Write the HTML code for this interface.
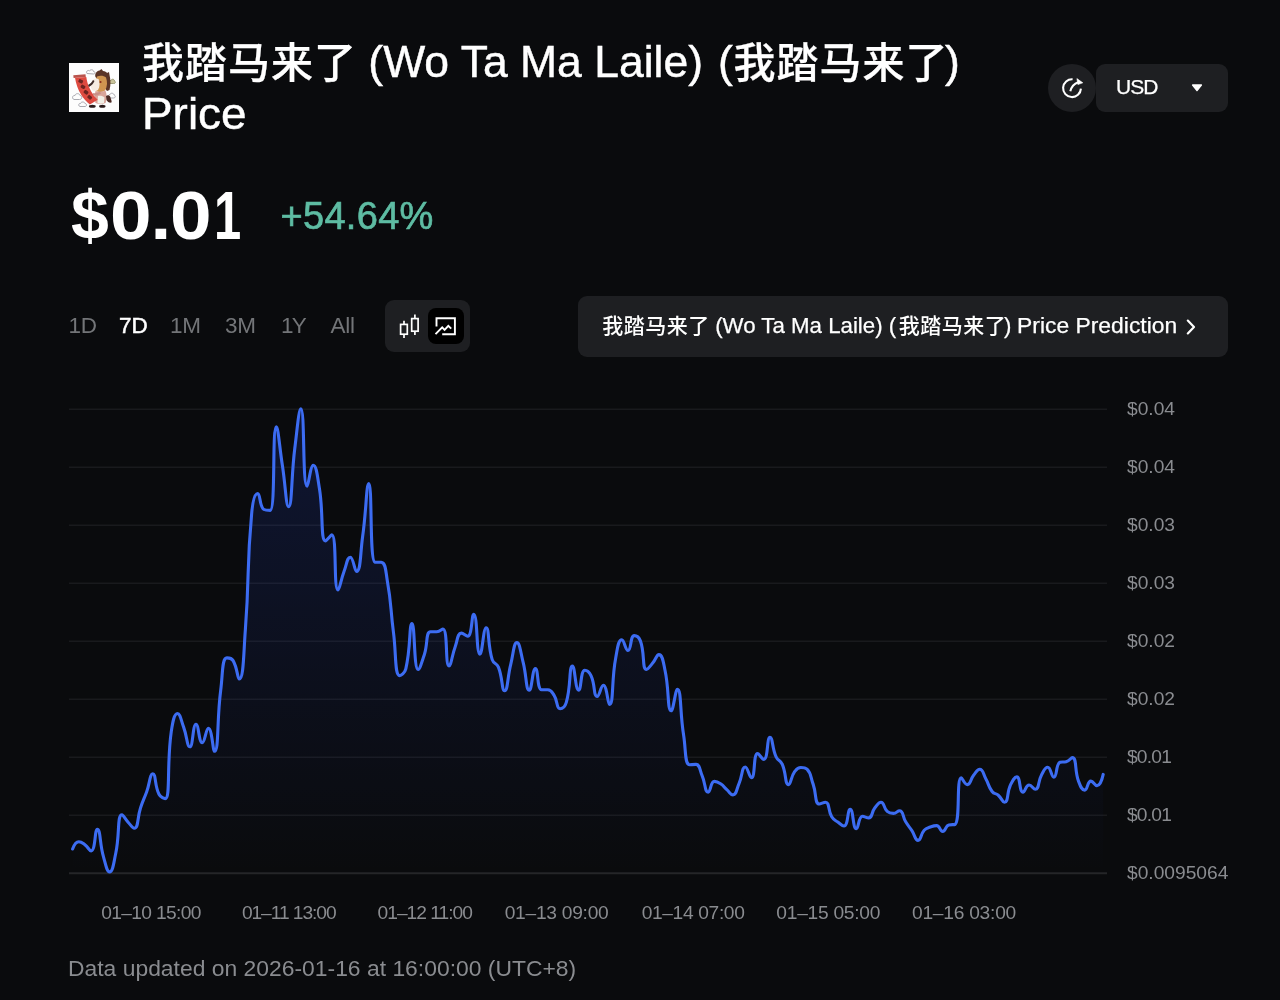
<!DOCTYPE html>
<html lang="zh">
<head>
<meta charset="utf-8">
<title>我踏马来了 (Wo Ta Ma Laile) (我踏马来了) Price</title>
<style>
*{box-sizing:border-box;margin:0;padding:0}
html,body{width:1280px;height:1000px;overflow:hidden;background:#0a0b0d}
body{position:relative;font-family:"Liberation Sans","Noto Sans CJK SC",sans-serif;color:#fff;-webkit-font-smoothing:antialiased}
.abs{position:absolute;white-space:nowrap}
#logo{left:69px;top:63.4px;width:50px;height:49px}
h1{left:0;top:0;width:1280px;height:150px;font-size:42px;line-height:51px;font-weight:400;color:#fff}
h1 span{position:absolute;white-space:pre;transform-origin:0 0}
h1 .c{letter-spacing:1px;font-weight:500;-webkit-text-stroke:0.25px #fff}
h1 .l{font-size:44px;transform:scaleX(1.011);-webkit-text-stroke:0.45px #fff}
#refresh{left:1048px;top:63.5px;width:48px;height:48px;border-radius:50%;background:#1e1f22}
#cur{left:1096px;top:63.5px;width:132px;height:48px;border-radius:9px;background:#1e1f22}
#cur span{position:absolute;left:20px;top:-1px;line-height:48px;font-size:21px;letter-spacing:-1px;color:#fff;-webkit-text-stroke:0.25px #fff}
#price{left:71px;top:176px;font-size:68px;line-height:78px;font-weight:700;color:#fff;letter-spacing:1.5px}
#price span{display:inline-block;transform-origin:0 0}
#price .z{transform:scaleX(1.1);letter-spacing:-1.1px;margin-left:-0.4px}
#price .o{transform:scaleX(.72);margin-left:13px}
#chg{left:280.5px;top:194px;font-size:38px;line-height:44px;color:#5ebca3;letter-spacing:0.3px;-webkit-text-stroke:0.65px #5ebca3}
.tab{top:313px;font-size:22.5px;line-height:26px;color:#737578;letter-spacing:-0.2px}
.tab.on{color:#fff;-webkit-text-stroke:0.5px #fff;letter-spacing:0}
#toggle{left:385px;top:300px;width:85px;height:52px;border-radius:9px;background:#1e1f22}
#toggle .act{position:absolute;left:43px;top:8px;width:36px;height:36px;border-radius:8px;background:#000}
#pred{left:578px;top:296px;width:650px;height:61px;border-radius:9px;background:#1e1f22;font-size:21px;line-height:61px;color:#fff}
#pred span{position:absolute;top:0;white-space:pre;transform-origin:0 0}
#pred .c{top:-1px;letter-spacing:0.5px;font-weight:500}
#pred .l{font-size:22.5px;top:-1.2px;transform:scaleX(.989);-webkit-text-stroke:0.25px #fff}
#pred .p{font-size:22.5px;top:-1.2px;transform:scaleX(1.017);-webkit-text-stroke:0.25px #fff}
#chart{left:0;top:0;width:1280px;height:1000px}
#chart text{font-family:"Liberation Sans",sans-serif;font-size:19.2px;fill:#8a8c90}
#foot{left:68px;top:955.5px;font-size:22px;line-height:26px;color:#8a8c90;transform:scaleX(1.04);transform-origin:0 0}
</style>
</head>
<body>
<svg id="chart" class="abs" viewBox="0 0 1280 1000">
  <defs>
    <linearGradient id="ag" x1="0" y1="409" x2="0" y2="873" gradientUnits="userSpaceOnUse">
      <stop offset="0" stop-color="#2a50ff" stop-opacity="0.155"/>
      <stop offset="1" stop-color="#2a50ff" stop-opacity="0"/>
    </linearGradient>
  </defs>
  <g stroke="#191a1d" stroke-width="1.6">
    <line x1="69" y1="409.3" x2="1107" y2="409.3"/>
    <line x1="69" y1="467.3" x2="1107" y2="467.3"/>
    <line x1="69" y1="525.3" x2="1107" y2="525.3"/>
    <line x1="69" y1="583.3" x2="1107" y2="583.3"/>
    <line x1="69" y1="641.3" x2="1107" y2="641.3"/>
    <line x1="69" y1="699.3" x2="1107" y2="699.3"/>
    <line x1="69" y1="757.3" x2="1107" y2="757.3"/>
    <line x1="69" y1="815.3" x2="1107" y2="815.3"/>
  </g>
  <line x1="69" y1="873.2" x2="1107" y2="873.2" stroke="#252628" stroke-width="2"/>
  <path d="M72.6 849C72.6 849 75.2 841.7 78.8 841.7C81.4 841.7 82.2 842.7 84.9 844.7C88.4 847.3 89.4 850.9 91.1 850.9C95.6 850.9 94.6 829.3 97.3 829.3C100.7 829.3 99.5 843.4 103.5 856.9C105.7 864.7 106.9 871.9 109.6 871.9C113 871.9 113.7 862.7 115.8 853C119.9 834.1 117 814.7 122 814.7C123.2 814.7 124.9 818.6 128.1 822.2C131 825.4 132.5 828.2 134.3 828.2C138.7 828.2 137.1 817.9 140.5 807.9C143.3 799.7 143.7 799.8 146.7 791.7C149.9 782.8 149.9 773.8 152.8 773.8C156.1 773.8 154.4 785.1 159 794.3C160.6 797.5 164.5 798.6 165.2 798.6C170.7 798.6 166.5 764.6 171.3 731.4C172.7 722.1 174.1 713.5 177.5 713.5C180.3 713.5 181 720.3 183.7 727.4C187.2 736.9 187 746.8 189.9 746.8C193.1 746.8 192.7 724.3 196 724.3C198.8 724.3 198.8 742.8 202.2 742.8C204.9 742.8 205.9 728.4 208.4 728.4C212.1 728.4 212.8 751.3 214.5 751.3C219 751.3 216.7 720.6 220.7 690.2C222.9 673.9 221.8 657.9 226.9 657.9C227.9 657.9 231.5 657.9 233.1 660.6C237.6 668.4 237.5 679 239.2 679C243.7 679 243.5 654.2 245.4 629.2C249.7 571.9 246.4 571.4 251.6 514.3C252.5 503.5 254.3 493.5 257.7 493.5C260.5 493.5 259.4 507 263.9 509.5C265.6 510.4 269.7 510.4 270.1 510.4C275.8 510.4 272 426.9 276.3 426.9C278.2 426.9 279.4 446.2 282.4 465.6C285.6 486.1 286 506.7 288.6 506.7C292.2 506.7 291.1 477.4 294.8 448.3C297.3 428.5 298.8 408.9 300.9 408.9C305 408.9 302.3 486.3 307.1 486.3C308.5 486.3 310.4 465.2 313.3 465.2C316.5 465.2 317.5 476.9 319.5 489.1C323.6 514.8 320.3 540.9 325.6 540.9C326.5 540.9 331 534.9 331.8 534.9C337.1 534.9 333.4 590 338 590C339.6 590 340.7 580.4 344.1 571.2C346.8 564 347.2 557.2 350.3 557.2C353.4 557.2 354.6 571.5 356.5 571.5C360.8 571.5 360.2 554.2 362.6 536.7C366.4 510.2 366.3 483.6 368.8 483.6C372.5 483.6 369.3 560.9 375 562.2C375.4 562.3 379.7 562.2 381.2 562.3C385.8 562.6 385.7 571.2 387.3 580.7C391.8 606.3 390.1 606.7 393.5 632.6C396.3 654.1 394.6 675.6 399.7 675.6C400.8 675.6 404.8 673.2 405.8 668.8C411 647.2 409 623.6 412 623.6C415.1 623.6 413.6 669.5 418.2 669.5C419.8 669.5 421.8 662.2 424.4 654.5C428 643.3 425.6 631.8 430.5 631.8C431.8 631.8 433.8 631.8 436.7 631.8C439.9 631.8 441.9 629 442.9 629C448.1 629 445 665.9 449 665.9C451.2 665.9 451.7 656.1 455.2 646.7C457.8 639.7 457.2 633.1 461.4 633.1C463.3 633.1 466.1 636.2 467.6 636.2C472.3 636.2 471.5 614.2 473.7 614.2C477.7 614.2 476.2 654.2 479.9 654.2C482.4 654.2 483.3 627.7 486.1 627.7C489.4 627.7 487.5 644.4 492.2 659.6C493.7 664.2 496.6 662.7 498.4 667.2C502.8 678.3 501.7 690.7 504.6 690.7C507.9 690.7 507.4 677.3 510.8 664.1C513.5 653.3 513.7 642.6 516.9 642.6C519.9 642.6 520.5 652.2 523.1 662.1C526.7 676 525.8 690.2 529.3 690.2C532 690.2 532.3 668.6 535.4 668.6C538.5 668.6 536.8 689.3 541.6 689.7C543 689.8 545.1 689.7 547.8 689.8C551.3 689.9 551.8 691.8 554 695.1C558 701.2 556.2 708.7 560.1 708.7C562.4 708.7 565.1 706.5 566.3 702.4C571.3 685.2 568.8 666.1 572.5 666.1C575 666.1 575.3 690.1 578.6 690.1C581.5 690.1 580.4 670.3 584.8 670.3C586.6 670.3 589.3 672.1 591 675.7C595.5 685.2 593.3 696.4 597.2 696.4C599.5 696.4 600.9 685.2 603.3 685.2C607.1 685.2 607.6 704.5 609.5 704.5C613.8 704.5 611.3 681 615.7 658C617.5 648.6 618.1 639.7 621.8 639.7C624.3 639.7 625.3 650.5 628 650.5C631.5 650.5 630.1 635.6 634.2 635.6C636.3 635.6 639 637.2 640.4 640.9C645.2 654.1 641.8 669.4 646.5 669.4C648 669.4 649.9 666.5 652.7 663.1C656.1 659.1 656.5 654.6 658.9 654.6C662.7 654.6 663.3 662.1 665 670.2C669.4 690.2 667.2 710.8 671.2 710.8C673.4 710.8 675.4 689.2 677.4 689.2C681.5 689.2 679.8 712.2 683.6 735C686 750 684.6 764.8 689.7 764.8C690.8 764.8 693.9 764.4 695.9 764.4C700.1 764.4 699.5 769.8 702.1 775.6C705.7 783.7 704.6 792.2 708.2 792.2C710.8 792.2 710.4 781.4 714.4 781.4C716.6 781.4 717.9 782 720.6 783.8C724.1 786.1 723.6 786.8 726.8 789.7C729.8 792.4 730.6 794.9 732.9 794.9C736.7 794.9 736.4 789.3 739.1 783.3C742.6 775.3 741.7 767 745.3 767C747.8 767 749.4 777.8 751.4 777.8C755.6 777.8 753 753.6 757.6 753.6C759.2 753.6 762.1 759.4 763.8 759.4C768.3 759.4 766.7 737.4 770 737.4C772.9 737.4 771.9 747.7 776.1 756.9C778.1 761.2 780.4 760 782.3 764.4C786.5 773.9 784.8 784.6 788.5 784.6C791 784.6 790.6 777.3 794.6 771.7C796.8 768.8 797.5 767.5 800.8 767.5C803.7 767.5 805.2 767.5 807 769.2C811.4 773.6 810.4 776.7 813.2 784.4C816.6 794.1 814.6 804 819.3 804C820.8 804 823.7 802.2 825.5 802.2C829.9 802.2 827.6 810.2 831.7 816.8C833.8 820.2 834.6 819.7 837.8 822.1C840.8 824.3 842.2 826 844 826C848.4 826 847.3 809.3 850.2 809.3C853.5 809.3 852.7 828.7 856.3 828.7C858.8 828.7 858.3 816.3 862.5 816.3C864.5 816.3 866.5 817.9 868.7 817.9C872.7 817.9 871.2 812.4 874.9 807.8C877.4 804.6 878.4 802.2 881 802.2C884.6 802.2 883.3 808 887.2 811.4C889.5 813.4 890.3 813.4 893.4 813.4C896.5 813.4 897.4 810.7 899.5 810.7C903.6 810.7 902.4 816.4 905.7 821.8C908.5 826.4 908.9 826.1 911.9 830.6C915.1 835.4 915 840.4 918.1 840.4C921.2 840.4 920.4 834.5 924.2 830.3C926.5 827.8 927.2 828.2 930.4 827C933.3 825.9 933.9 825.6 936.6 825.6C940.1 825.6 939.7 831.4 942.7 831.4C945.9 831.4 945.3 825.6 948.9 824.9C951.4 824.4 954.4 824.9 955.1 824.4C960.5 820.6 956.1 777.8 961.3 777.8C962.3 777.8 964.6 784.6 967.4 784.6C970.8 784.6 970.1 779.6 973.6 775.3C976.3 772 977.1 769.3 979.8 769.3C983.3 769.3 983.1 774 985.9 779.1C989.3 785.1 988.1 786.2 992.1 791.5C994.2 794.3 995.6 792.9 998.3 795.2C1001.8 798.3 1002.4 802.3 1004.5 802.3C1008.6 802.3 1006.6 793 1010.6 784.7C1012.8 780.3 1014.5 776.9 1016.8 776.9C1020.6 776.9 1019.1 792.1 1023 792.1C1025.2 792.1 1025.7 785 1029.1 785C1031.9 785 1033.3 789.3 1035.3 789.3C1039.5 789.3 1037.7 781.7 1041.5 774.9C1043.9 770.7 1044.8 767.3 1047.7 767.3C1051 767.3 1051.2 777.1 1053.8 777.1C1057.4 777.1 1055.6 763.9 1060 762.3C1061.7 761.7 1063.4 762.3 1066.2 761.7C1069.5 761 1070.9 757.6 1072.3 757.6C1077.1 757.6 1074.3 769.9 1078.5 781.1C1080.4 786.1 1081.6 790.1 1084.7 790.1C1087.8 790.1 1087.2 781.1 1090.9 781.1C1093.4 781.1 1094.7 785.6 1097 785.6C1100.9 785.6 1103.2 774.4 1103.2 774.4L1103.2 873L72.6 873Z" fill="url(#ag)"/>
  <path d="M72.6 849C72.6 849 75.2 841.7 78.8 841.7C81.4 841.7 82.2 842.7 84.9 844.7C88.4 847.3 89.4 850.9 91.1 850.9C95.6 850.9 94.6 829.3 97.3 829.3C100.7 829.3 99.5 843.4 103.5 856.9C105.7 864.7 106.9 871.9 109.6 871.9C113 871.9 113.7 862.7 115.8 853C119.9 834.1 117 814.7 122 814.7C123.2 814.7 124.9 818.6 128.1 822.2C131 825.4 132.5 828.2 134.3 828.2C138.7 828.2 137.1 817.9 140.5 807.9C143.3 799.7 143.7 799.8 146.7 791.7C149.9 782.8 149.9 773.8 152.8 773.8C156.1 773.8 154.4 785.1 159 794.3C160.6 797.5 164.5 798.6 165.2 798.6C170.7 798.6 166.5 764.6 171.3 731.4C172.7 722.1 174.1 713.5 177.5 713.5C180.3 713.5 181 720.3 183.7 727.4C187.2 736.9 187 746.8 189.9 746.8C193.1 746.8 192.7 724.3 196 724.3C198.8 724.3 198.8 742.8 202.2 742.8C204.9 742.8 205.9 728.4 208.4 728.4C212.1 728.4 212.8 751.3 214.5 751.3C219 751.3 216.7 720.6 220.7 690.2C222.9 673.9 221.8 657.9 226.9 657.9C227.9 657.9 231.5 657.9 233.1 660.6C237.6 668.4 237.5 679 239.2 679C243.7 679 243.5 654.2 245.4 629.2C249.7 571.9 246.4 571.4 251.6 514.3C252.5 503.5 254.3 493.5 257.7 493.5C260.5 493.5 259.4 507 263.9 509.5C265.6 510.4 269.7 510.4 270.1 510.4C275.8 510.4 272 426.9 276.3 426.9C278.2 426.9 279.4 446.2 282.4 465.6C285.6 486.1 286 506.7 288.6 506.7C292.2 506.7 291.1 477.4 294.8 448.3C297.3 428.5 298.8 408.9 300.9 408.9C305 408.9 302.3 486.3 307.1 486.3C308.5 486.3 310.4 465.2 313.3 465.2C316.5 465.2 317.5 476.9 319.5 489.1C323.6 514.8 320.3 540.9 325.6 540.9C326.5 540.9 331 534.9 331.8 534.9C337.1 534.9 333.4 590 338 590C339.6 590 340.7 580.4 344.1 571.2C346.8 564 347.2 557.2 350.3 557.2C353.4 557.2 354.6 571.5 356.5 571.5C360.8 571.5 360.2 554.2 362.6 536.7C366.4 510.2 366.3 483.6 368.8 483.6C372.5 483.6 369.3 560.9 375 562.2C375.4 562.3 379.7 562.2 381.2 562.3C385.8 562.6 385.7 571.2 387.3 580.7C391.8 606.3 390.1 606.7 393.5 632.6C396.3 654.1 394.6 675.6 399.7 675.6C400.8 675.6 404.8 673.2 405.8 668.8C411 647.2 409 623.6 412 623.6C415.1 623.6 413.6 669.5 418.2 669.5C419.8 669.5 421.8 662.2 424.4 654.5C428 643.3 425.6 631.8 430.5 631.8C431.8 631.8 433.8 631.8 436.7 631.8C439.9 631.8 441.9 629 442.9 629C448.1 629 445 665.9 449 665.9C451.2 665.9 451.7 656.1 455.2 646.7C457.8 639.7 457.2 633.1 461.4 633.1C463.3 633.1 466.1 636.2 467.6 636.2C472.3 636.2 471.5 614.2 473.7 614.2C477.7 614.2 476.2 654.2 479.9 654.2C482.4 654.2 483.3 627.7 486.1 627.7C489.4 627.7 487.5 644.4 492.2 659.6C493.7 664.2 496.6 662.7 498.4 667.2C502.8 678.3 501.7 690.7 504.6 690.7C507.9 690.7 507.4 677.3 510.8 664.1C513.5 653.3 513.7 642.6 516.9 642.6C519.9 642.6 520.5 652.2 523.1 662.1C526.7 676 525.8 690.2 529.3 690.2C532 690.2 532.3 668.6 535.4 668.6C538.5 668.6 536.8 689.3 541.6 689.7C543 689.8 545.1 689.7 547.8 689.8C551.3 689.9 551.8 691.8 554 695.1C558 701.2 556.2 708.7 560.1 708.7C562.4 708.7 565.1 706.5 566.3 702.4C571.3 685.2 568.8 666.1 572.5 666.1C575 666.1 575.3 690.1 578.6 690.1C581.5 690.1 580.4 670.3 584.8 670.3C586.6 670.3 589.3 672.1 591 675.7C595.5 685.2 593.3 696.4 597.2 696.4C599.5 696.4 600.9 685.2 603.3 685.2C607.1 685.2 607.6 704.5 609.5 704.5C613.8 704.5 611.3 681 615.7 658C617.5 648.6 618.1 639.7 621.8 639.7C624.3 639.7 625.3 650.5 628 650.5C631.5 650.5 630.1 635.6 634.2 635.6C636.3 635.6 639 637.2 640.4 640.9C645.2 654.1 641.8 669.4 646.5 669.4C648 669.4 649.9 666.5 652.7 663.1C656.1 659.1 656.5 654.6 658.9 654.6C662.7 654.6 663.3 662.1 665 670.2C669.4 690.2 667.2 710.8 671.2 710.8C673.4 710.8 675.4 689.2 677.4 689.2C681.5 689.2 679.8 712.2 683.6 735C686 750 684.6 764.8 689.7 764.8C690.8 764.8 693.9 764.4 695.9 764.4C700.1 764.4 699.5 769.8 702.1 775.6C705.7 783.7 704.6 792.2 708.2 792.2C710.8 792.2 710.4 781.4 714.4 781.4C716.6 781.4 717.9 782 720.6 783.8C724.1 786.1 723.6 786.8 726.8 789.7C729.8 792.4 730.6 794.9 732.9 794.9C736.7 794.9 736.4 789.3 739.1 783.3C742.6 775.3 741.7 767 745.3 767C747.8 767 749.4 777.8 751.4 777.8C755.6 777.8 753 753.6 757.6 753.6C759.2 753.6 762.1 759.4 763.8 759.4C768.3 759.4 766.7 737.4 770 737.4C772.9 737.4 771.9 747.7 776.1 756.9C778.1 761.2 780.4 760 782.3 764.4C786.5 773.9 784.8 784.6 788.5 784.6C791 784.6 790.6 777.3 794.6 771.7C796.8 768.8 797.5 767.5 800.8 767.5C803.7 767.5 805.2 767.5 807 769.2C811.4 773.6 810.4 776.7 813.2 784.4C816.6 794.1 814.6 804 819.3 804C820.8 804 823.7 802.2 825.5 802.2C829.9 802.2 827.6 810.2 831.7 816.8C833.8 820.2 834.6 819.7 837.8 822.1C840.8 824.3 842.2 826 844 826C848.4 826 847.3 809.3 850.2 809.3C853.5 809.3 852.7 828.7 856.3 828.7C858.8 828.7 858.3 816.3 862.5 816.3C864.5 816.3 866.5 817.9 868.7 817.9C872.7 817.9 871.2 812.4 874.9 807.8C877.4 804.6 878.4 802.2 881 802.2C884.6 802.2 883.3 808 887.2 811.4C889.5 813.4 890.3 813.4 893.4 813.4C896.5 813.4 897.4 810.7 899.5 810.7C903.6 810.7 902.4 816.4 905.7 821.8C908.5 826.4 908.9 826.1 911.9 830.6C915.1 835.4 915 840.4 918.1 840.4C921.2 840.4 920.4 834.5 924.2 830.3C926.5 827.8 927.2 828.2 930.4 827C933.3 825.9 933.9 825.6 936.6 825.6C940.1 825.6 939.7 831.4 942.7 831.4C945.9 831.4 945.3 825.6 948.9 824.9C951.4 824.4 954.4 824.9 955.1 824.4C960.5 820.6 956.1 777.8 961.3 777.8C962.3 777.8 964.6 784.6 967.4 784.6C970.8 784.6 970.1 779.6 973.6 775.3C976.3 772 977.1 769.3 979.8 769.3C983.3 769.3 983.1 774 985.9 779.1C989.3 785.1 988.1 786.2 992.1 791.5C994.2 794.3 995.6 792.9 998.3 795.2C1001.8 798.3 1002.4 802.3 1004.5 802.3C1008.6 802.3 1006.6 793 1010.6 784.7C1012.8 780.3 1014.5 776.9 1016.8 776.9C1020.6 776.9 1019.1 792.1 1023 792.1C1025.2 792.1 1025.7 785 1029.1 785C1031.9 785 1033.3 789.3 1035.3 789.3C1039.5 789.3 1037.7 781.7 1041.5 774.9C1043.9 770.7 1044.8 767.3 1047.7 767.3C1051 767.3 1051.2 777.1 1053.8 777.1C1057.4 777.1 1055.6 763.9 1060 762.3C1061.7 761.7 1063.4 762.3 1066.2 761.7C1069.5 761 1070.9 757.6 1072.3 757.6C1077.1 757.6 1074.3 769.9 1078.5 781.1C1080.4 786.1 1081.6 790.1 1084.7 790.1C1087.8 790.1 1087.2 781.1 1090.9 781.1C1093.4 781.1 1094.7 785.6 1097 785.6C1100.9 785.6 1103.2 774.4 1103.2 774.4" fill="none" stroke="#3c6cf2" stroke-width="3.1" stroke-linejoin="round" stroke-linecap="round"/>
  <g>
    <text x="1127" y="415.1">$0.04</text>
    <text x="1127" y="473.1">$0.04</text>
    <text x="1127" y="531.1">$0.03</text>
    <text x="1127" y="589.1">$0.03</text>
    <text x="1127" y="647.1">$0.02</text>
    <text x="1127" y="705.1">$0.02</text>
    <text x="1127" y="763.1" letter-spacing="-0.8">$0.01</text>
    <text x="1127" y="821.1" letter-spacing="-0.8">$0.01</text>
    <text x="1127" y="879.1">$0.0095064</text>
  </g>
  <g text-anchor="middle">
    <text x="151" y="919.2" letter-spacing="-0.65">01–10 15:00</text>
    <text x="288.75" y="919.2" letter-spacing="-1.05">01–11 13:00</text>
    <text x="424.7" y="919.2" letter-spacing="-1.0">01–12 11:00</text>
    <text x="556.6" y="919.2" letter-spacing="-0.27">01–13 09:00</text>
    <text x="693.1" y="919.2" letter-spacing="-0.35">01–14 07:00</text>
    <text x="828.2" y="919.2" letter-spacing="-0.27">01–15 05:00</text>
    <text x="964" y="919.2" letter-spacing="-0.25">01–16 03:00</text>
  </g>
</svg>

<div id="logo" class="abs">
  <svg width="50" height="49" viewBox="0 0 50 49">
    <rect width="50" height="49" fill="#fdfdfd"/>
    <g fill="none" stroke="#a9a9b0" stroke-width="1">
      <path d="M18 10.5c-1.5-2 1-4 2.5-2.500c1-2 4-1.5 4 .5c2 0 2 2.5 0 2.500z"/>
      <path d="M5 36.500c-2.5-1-1.5-4.5 1-4c.5-2.5 4.5-2.5 5 0c2.5 0 2.5 4-.5 4z"/>
      <path d="M11 43.500c-2-.5-1.5-3.5 .5-3c.5-2 4-2 4.5 0c2 0 2 3 0 3z"/>
      <path d="M40.5 35c-2-.5-1.5-3.5 .5-3.500c.5-2 4-1.5 4 .5c2 .5 1.5 3-.5 3z"/>
    </g>
    <path d="M41 20.500c-1.5-1-.5-3.5 1-3c.5-2 3.5-1.5 3.5 .5c1.5 .5 1 3-1 2.500z" fill="#c9c39a" stroke="#8c8a62" stroke-width=".8"/>
    <path d="M26.5 14c-1-3 1-6 4-6.500l2-1.500l1.5 2c2 0 3.5 1 4 2l2-1l.5 3c1 4 1.5 10 0 15l-2.5 1z" fill="#5b3527"/>
    <path d="M28 13.500c3-1.5 7-1 9 1c1.5 4 1.5 9-1 13c-3 2-7 2-9 0c-1-4-1-10 1-14z" fill="#cf9550"/>
    <path d="M22.5 19c1-3 4.5-4.5 7-3c1.5 3 1.5 8-.5 11c-2.5 1.5-5.5 1-6.5-1c-1-2-1-5 0-7z" fill="#f6ece2"/>
    <circle cx="31.5" cy="19" r="1.1" fill="#8a2d1c"/>
    <path d="M26.5 28c3 1 7 1 10-.5c1.5 4 1.5 9 0 12.500c-3 1.5-7 1.5-10 0c-1-4-1-8 0-12z" fill="#d9a59a"/>
    <path d="M29 33c2.5-.5 5 0 6.5 1.500l-.5 5.500c-2 1-4.5 1-6.5 0z" fill="#f1efe6"/>
    <path d="M37 33c2-1.5 4-.5 4.5 1.500c.5 2 1.5 3.5 1 5c-2 .5-4-.5-5-2.500z" fill="#4a2a25"/>
    <path d="M4.3 12.200l12.2-.900l.3 2.700l-12.2 1z" fill="#b9544d"/>
    <path d="M6 14.800c1 6 3 12 6.3 17.200c2.4 3.8 5.4 7 8.6 9.600l7.8-4.800c-3.5-3.2-6.3-7.3-8.3-12c-1.6-3.7-2.6-7.3-3.1-10.900z" fill="#dd4a40"/>
    <g fill="#6b2420">
      <rect x="9.5" y="16.5" width="4.5" height="3.5" rx="1" transform="rotate(25 11.7 18.2)"/>
      <rect x="11.8" y="22" width="4.5" height="3.5" rx="1" transform="rotate(30 14 23.7)"/>
      <rect x="14.8" y="27.5" width="4.5" height="3.5" rx="1" transform="rotate(35 17 29.2)"/>
      <rect x="18.5" y="32.5" width="4.5" height="3.5" rx="1" transform="rotate(40 20.7 34.2)"/>
    </g>
    <path d="M19 22c2-1 4-3 5-5l1.5 1c-1 2.5-3 4.5-5.5 6z" fill="#3b2a27"/>
    <path d="M24 30c2 .5 5 0 7-1.500l1 2c-2 1.5-5 2.5-8 2z" fill="#c98f86"/>
    <ellipse cx="23.3" cy="43.3" rx="3.4" ry="1.5" fill="#2a1a1a"/>
    <ellipse cx="33.3" cy="43.3" rx="3.2" ry="1.5" fill="#2a1a1a"/>
  </svg>
</div>
<h1 class="abs"><span class="c" style="left:142px;top:38px">我踏马来了</span><span class="l" style="left:356px;top:36.3px"> (Wo Ta Ma Laile) </span><span class="l" style="left:718.2px;top:36.3px">(</span><span class="c" style="left:733.5px;top:38px">我踏马来了</span><span class="l" style="left:945px;top:36.3px">) </span><span class="l" style="left:141.5px;top:87.5px;transform:scaleX(1.043)">Price</span></h1>

<div id="refresh" class="abs">
  <svg width="48" height="48" viewBox="0 0 48 48">
    <path d="M24.6 15.300A8.9 8.9 0 1 0 32.9 24.6" fill="none" stroke="#fff" stroke-width="2.1" stroke-linecap="butt"/>
    <path d="M22.3 27.300Q24.2 20.3 30.2 18.3" fill="none" stroke="#fff" stroke-width="2.1"/>
    <path d="M28.9 14.600L34.8 18.800L29.9 20.600Z" fill="#fff" stroke="#fff" stroke-width=".6" stroke-linejoin="round"/>
  </svg>
</div>
<div id="cur" class="abs"><span>USD</span>
  <svg style="position:absolute;left:94.5px;top:20.2px" width="12" height="8" viewBox="0 0 12 8"><path d="M1.6 1h8.8L6 6.6z" fill="#fff" stroke="#fff" stroke-width="1.4" stroke-linejoin="round"/></svg>
</div>

<div id="price" class="abs">$<span class="z">0.0</span><span class="o">1</span></div>
<div id="chg" class="abs">+54.64%</div>

<div class="abs tab" style="left:68.5px">1D</div>
<div class="abs tab on" style="left:119px">7D</div>
<div class="abs tab" style="left:170px">1M</div>
<div class="abs tab" style="left:225px">3M</div>
<div class="abs tab" style="left:281px;letter-spacing:-1.8px">1Y</div>
<div class="abs tab" style="left:330.5px">All</div>

<div id="toggle" class="abs"><div class="act"></div>
  <svg style="position:absolute;left:0;top:0" width="85" height="52" viewBox="385 300 85 52">
    <g fill="none" stroke="#fff" stroke-width="1.7">
      <rect x="400.6" y="324.4" width="6.7" height="9.8"/>
      <path d="M404 320.800v3.600M404 334.200v3.8"/>
      <rect x="411.7" y="318.6" width="6.4" height="12.6"/>
      <path d="M414.9 314.600v4M414.9 331.200v3.8"/>
    </g>
    <g fill="none" stroke="#fff" stroke-width="1.9">
      <path d="M436.5 326.600V318.300H454.900V334.300H442.2"/>
      <path d="M435.5 334.200L442.2 327.300L444.6 329.900L448.3 325.800L451.2 328.7" stroke-linejoin="miter"/>
    </g>
  </svg>
</div>

<div id="pred" class="abs"><span class="c" style="left:24.3px">我踏马来了</span><span class="l" style="left:131.3px"> (Wo Ta Ma Laile) (</span><span class="c" style="left:320.8px">我踏马来了</span><span class="l" style="left:425.8px">) </span><span class="p" style="left:439px">Price Prediction</span>
  <svg style="position:absolute;left:608px;top:22.5px" width="10" height="16" viewBox="0 0 10 16"><path d="M1.8 1.600l6.2 6.400l-6.2 6.4" fill="none" stroke="#fff" stroke-width="2.2" stroke-linecap="round" stroke-linejoin="round"/></svg>
</div>

<div id="foot" class="abs">Data updated on 2026-01-16 at 16:00:00 (UTC+8)</div>
</body>
</html>
